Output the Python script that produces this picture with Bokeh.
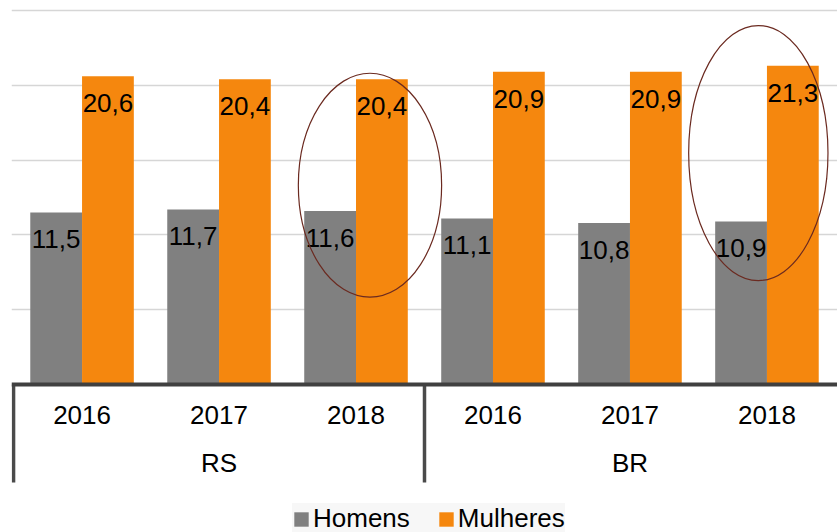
from bokeh.plotting import figure
from bokeh.models import ColumnDataSource, FactorRange, Range1d, FixedTicker, Legend, LegendItem
from bokeh.transform import dodge
from bokeh.core.properties import value
from bokeh.embed import file_html
from bokeh.resources import INLINE

# ---- data ----
regions = ["RS", "BR"]
years = ["2016", "2017", "2018"]
homens = [11.5, 11.7, 11.6, 11.1, 10.8, 10.9]
mulheres = [20.6, 20.4, 20.4, 20.9, 20.9, 21.3]
series_names = ["Homens", "Mulheres"]
highlight = [("RS", "2018"), ("BR", "2018")]

# ---- style ----
FONT = "Liberation Sans"
GRAY = "#808080"
ORANGE = "#F5870E"
W, H = 837, 532
PX_BASE = 384.0   # pixel row of value 0 inside the frame
PX_PER_UNIT = 14.96

factors = [(r, y) for r in regions for y in years]
labels_h = [f"{v:.1f}".replace(".", ",") for v in homens]
labels_m = [f"{v:.1f}".replace(".", ",") for v in mulheres]
src = ColumnDataSource(dict(cat=factors, homens=homens, mulheres=mulheres,
                            lh=labels_h, lm=labels_m))

x_range = FactorRange(*factors, group_padding=0, factor_padding=0,
                      range_padding=0.015, range_padding_units="absolute")
y_range = Range1d(-(H - PX_BASE) / PX_PER_UNIT, PX_BASE / PX_PER_UNIT)

p = figure(x_range=x_range, y_range=y_range, width=W, height=H,
           output_backend="svg", toolbar_location=None, y_axis_location=None,
           min_border_left=11, min_border_right=0, min_border_top=0, min_border_bottom=0)
p.outline_line_color = None
p.background_fill_color = "white"
p.xgrid.visible = False
p.ygrid.ticker = FixedTicker(ticks=[5, 10, 15, 20, 25])
p.ygrid.grid_line_color = "#d6d6d6"
p.ygrid.grid_line_width = 1.5

BW = 0.378
OFF = 0.189
r_h = p.vbar(x=dodge("cat", -OFF, range=p.x_range), top="homens", bottom=0, width=BW,
             source=src, fill_color=GRAY, line_color=None)
r_m = p.vbar(x=dodge("cat", OFF, range=p.x_range), top="mulheres", bottom=0, width=BW,
             source=src, fill_color=ORANGE, line_color=None)

for col, lab, off in (("homens", "lh", -OFF), ("mulheres", "lm", OFF)):
    p.text(x=dodge("cat", off, range=p.x_range), y=col, text=lab, source=src,
           text_font=value(FONT), text_font_size="26px", text_color="black",
           text_align="center", text_baseline="middle", y_offset=27)

# x axis drawn at value 0 inside the frame
ax = p.xaxis[0]
ax.fixed_location = 0
ax.axis_line_color = "#404040"
ax.axis_line_width = 4
ax.major_tick_line_color = None
ax.minor_tick_line_color = None
ax.major_tick_out = 0
ax.major_tick_in = 0
ax.major_label_standoff = 21
ax.major_label_text_font = FONT
ax.major_label_text_font_size = "26px"
ax.major_label_text_color = "black"
ax.group_text_font = FONT
ax.group_text_font_size = "26px"
ax.group_text_font_style = "normal"
ax.group_text_color = "black"
ax.separator_line_color = None

# group separators at the start of each region group
sep_bottom = -(482 - 384) / PX_PER_UNIT
sep_x = [(r, years[0], -0.5) for r in regions]
p.segment(x0=sep_x, y0=[0] * len(sep_x), x1=sep_x, y1=[sep_bottom] * len(sep_x),
          line_color="#4a4a4a", line_width=3.5)

# highlight ellipses
ell_src = ColumnDataSource(dict(
    x=[highlight[0] + (0.102,), highlight[1] + (-0.063,)],
    y=[13.32, 15.47], w=[1.046, 1.017], h=[14.97, 17.05]))
p.ellipse(x="x", y="y", width="w", height="h", source=ell_src,
          fill_color=None, line_color="#6B2A20", line_width=1.2)

legend = Legend(items=[LegendItem(label=series_names[0], renderers=[r_h]),
                       LegendItem(label=series_names[1], renderers=[r_m])],
                orientation="horizontal", location=(281, -2),
                label_text_font=FONT, label_text_font_size="26px", label_text_color="black",
                label_height=20, glyph_width=18, glyph_height=18, label_standoff=3,
                spacing=27, padding=20, margin=0, background_fill_color="#f7f7f7",
                border_line_color=None)
p.add_layout(legend, "center")

open("out.html", "w").write(file_html(p, INLINE))
